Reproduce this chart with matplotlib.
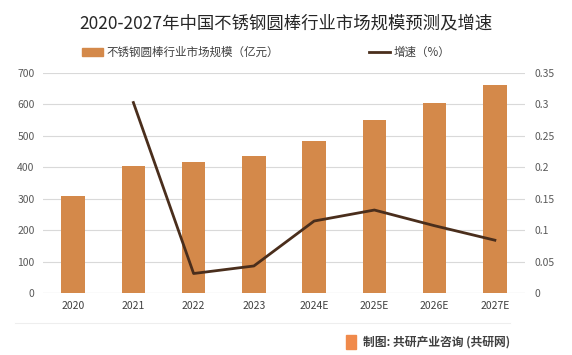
import matplotlib.pyplot as plt
from matplotlib.patches import Rectangle
from matplotlib.lines import Line2D

plt.rcParams['font.family'] = ['Noto Sans CJK SC', 'DejaVu Sans']

years = ["2020", "2021", "2022", "2023", "2024E", "2025E", "2026E", "2027E"]
scale = [310, 404, 416, 435, 483, 549, 606, 661]
growth_years = years[1:]
growth = [0.303, 0.031, 0.043, 0.1145, 0.132, 0.107, 0.084]

bar_color = "#D4894A"
line_color = "#4A2E1C"
grid_color = "#D9D9D9"
text_color = "#595959"

fig = plt.figure(figsize=(5.72, 3.55), dpi=100)
ax = fig.add_axes([43 / 572, 62 / 355, 482 / 572, 220 / 355])
ax2 = ax.twinx()

x = list(range(len(years)))
ax.bar(x, scale, width=0.39, color=bar_color, zorder=2)
ax2.plot(x[1:], growth, color=line_color, linewidth=2, zorder=3)

ax.set_xlim(-0.5, 7.5)
ax.set_ylim(0, 700)
ax.set_yticks(range(0, 701, 100))
ax2.set_ylim(0, 0.35)
ax2.set_yticks([0, 0.05, 0.1, 0.15, 0.2, 0.25, 0.3, 0.35])
ax2.set_yticklabels(["0", "0.05", "0.1", "0.15", "0.2", "0.25", "0.3", "0.35"])
ax.set_xticks(x)
ax.set_xticklabels(years)

ax.grid(axis="y", color=grid_color, linewidth=0.8, zorder=0)
for a in (ax, ax2):
    for s in a.spines.values():
        s.set_visible(False)
    a.tick_params(length=0, labelsize=7.5, colors=text_color)
ax.tick_params(axis="y", pad=6)
ax.tick_params(axis="x", pad=6, colors="#404040")
ax2.tick_params(axis="y", pad=7)
ax.axhline(0, color=grid_color, linewidth=0.8, zorder=1)

fig.text(0.5, 0.935, "2020-2027年中国不锈钢圆棒行业市场规模预测及增速",
         ha="center", va="center", fontsize=12.5, color="#262626")

handles = [Rectangle((0, 0), 1, 1, color=bar_color),
           Line2D([0], [0], color=line_color, linewidth=2)]
fig.legend(handles, ["不锈钢圆棒行业市场规模（亿元）", "增速（%）"],
           loc="center left", bbox_to_anchor=(72 / 572, 0.852), ncol=2,
           frameon=False, fontsize=8.3, columnspacing=7.8, handlelength=1.8,
           handletextpad=0.3, labelcolor="#404040")

fig.add_artist(Line2D([15 / 572, 510 / 572], [32 / 355, 32 / 355],
                      color="#EEEEEE", linewidth=0.8))
fig.add_artist(Rectangle((346 / 572, 6 / 355), 10 / 572, 14 / 355,
                         color="#F08A4B", transform=fig.transFigure))
fig.text(510 / 572, 13 / 355, "制图: 共研产业咨询 (共研网)", ha="right",
         va="center", fontsize=8.5, fontweight="bold", color="#404040")

fig.savefig("out.png", dpi=100)
